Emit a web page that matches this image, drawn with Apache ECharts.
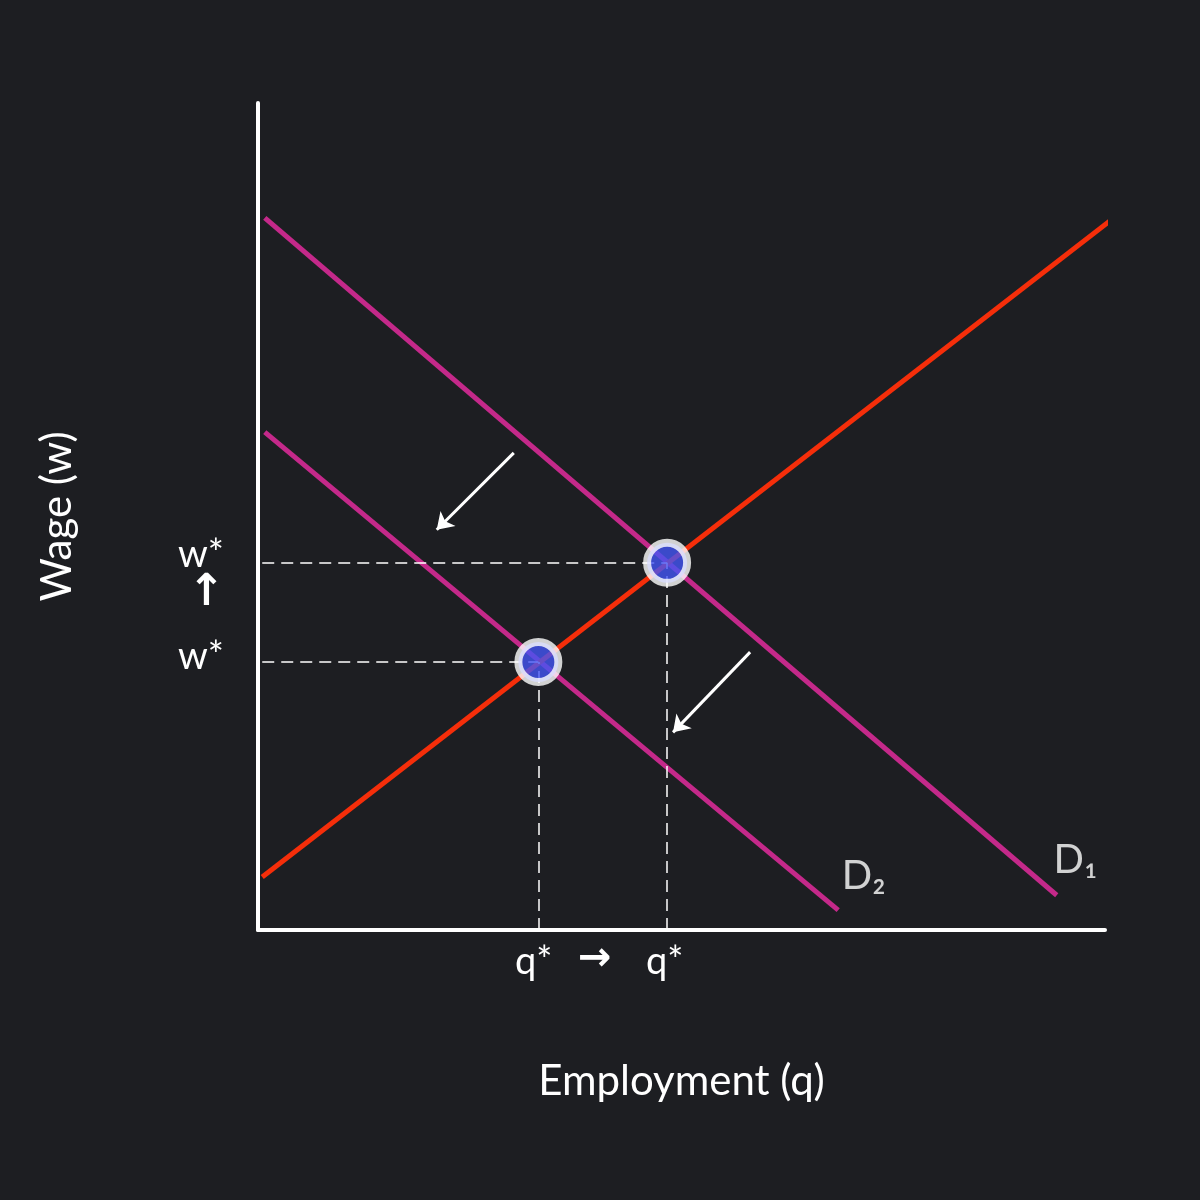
<!DOCTYPE html>
<html><head><meta charset="utf-8">
<script src="https://cdn.jsdelivr.net/npm/echarts@6/dist/echarts.min.js"></script>
<style>html,body{margin:0;background:#1d1e22}#c{width:1200px;height:1200px}</style>
</head><body><div id="c"></div>
<script>
// 曲线端点 (x = employment, y = wage), axis 0..100
const supply = [[0.5, 6.4], [103.3, 87.9]]
const demand1 = [[0.8, 86.1], [94.3, 4.2]]
const demand2 = [[0.8, 60.2], [68.5, 2.4]]
const equilibria = [[48.3, 44.4], [33.1, 32.4]]
const shiftArrows = [[[30.2, 57.7], [21.1, 48.4]], [[58.1, 33.6], [49.0, 23.9]]]
const curveLabels = [['D₁', 96.5, 8.5], ['D₂', 71.5, 6.5]]

const white = '#ffffff'
const dashStyle = { color: white, width: 1.5, type: [12, 7] }

// dashed guide lines from each equilibrium to the axes
function guides() {
    let out = []
    equilibria.forEach(function (p) {
        out.push([{ coord: [0.5, p[1]] }, { coord: p }])
        out.push([{ coord: [p[0], 0] }, { coord: p }])
    })
    return out
}

const chart = echarts.init(document.getElementById('c'))
chart.setOption({
    backgroundColor: '#1d1e22',
    animation: false,
    grid: { left: 258, right: 95, top: 103, bottom: 270 },
    xAxis: {
        type: 'value', min: 0, max: 100, splitLine: { show: false },
        axisLine: { lineStyle: { color: white, width: 4 } },
        axisTick: { show: false }, axisLabel: { show: false },
        name: 'Employment (q)', nameLocation: 'middle', nameGap: 130,
        nameTextStyle: { color: white, fontSize: 42, fontFamily: 'Lato' }
    },
    yAxis: {
        type: 'value', min: 0, max: 100, splitLine: { show: false },
        axisLine: { show: true, lineStyle: { color: white, width: 4 } },
        axisTick: { show: false }, axisLabel: { show: false },
        name: 'Wage (w)', nameLocation: 'middle', nameGap: 180,
        nameTextStyle: { color: white, fontSize: 42, fontFamily: 'Lato' }
    },
    series: [
        {
            type: 'line', data: demand1, symbol: 'none', clip: false,
            lineStyle: { color: '#c4298a', width: 5 }
        },
        {
            type: 'line', data: demand2, symbol: 'none', clip: false,
            lineStyle: { color: '#c4298a', width: 5 },
            markLine: { silent: true, symbol: 'none', label: { show: false }, lineStyle: dashStyle, data: guides() }
        },
        {
            type: 'line', data: supply, symbol: 'none', clip: false,
            lineStyle: { color: '#f52e0a', width: 5 }
        },
        {
            type: 'lines', coordinateSystem: 'cartesian2d',
            symbol: ['none', 'arrow'], symbolSize: 16,
            lineStyle: { color: white, width: 3, opacity: 1 },
            data: shiftArrows.map(a => ({ coords: a }))
        },
        {
            type: 'scatter', data: equilibria, symbolSize: 40, z: 10,
            itemStyle: { color: '#4355f5', borderColor: white, borderWidth: 8 }
        },
        {
            type: 'scatter', symbolSize: 0, clip: false,
            data: curveLabels.map(l => ({ value: [l[1], l[2]], name: l[0] })),
            label: { show: true, formatter: '{b}', color: white, fontSize: 40, fontFamily: 'Lato' }
        }
    ],
    graphic: [
        { type: 'text', left: 178, top: 536, style: { text: 'w*', fill: white, font: '38px Lato' } },
        { type: 'text', left: 178, top: 638, style: { text: 'w*', fill: white, font: '38px Lato' } },
        { type: 'text', left: 188, top: 572, style: { text: '↑', fill: white, font: 'bold 44px DejaVu Sans' } },
        { type: 'text', left: 515, top: 943, style: { text: 'q*', fill: white, font: '38px Lato' } },
        { type: 'text', left: 646, top: 943, style: { text: 'q*', fill: white, font: '38px Lato' } },
        { type: 'text', left: 578, top: 940, style: { text: '→', fill: white, font: 'bold 40px DejaVu Sans' } }
    ]
})
</script></body></html>
